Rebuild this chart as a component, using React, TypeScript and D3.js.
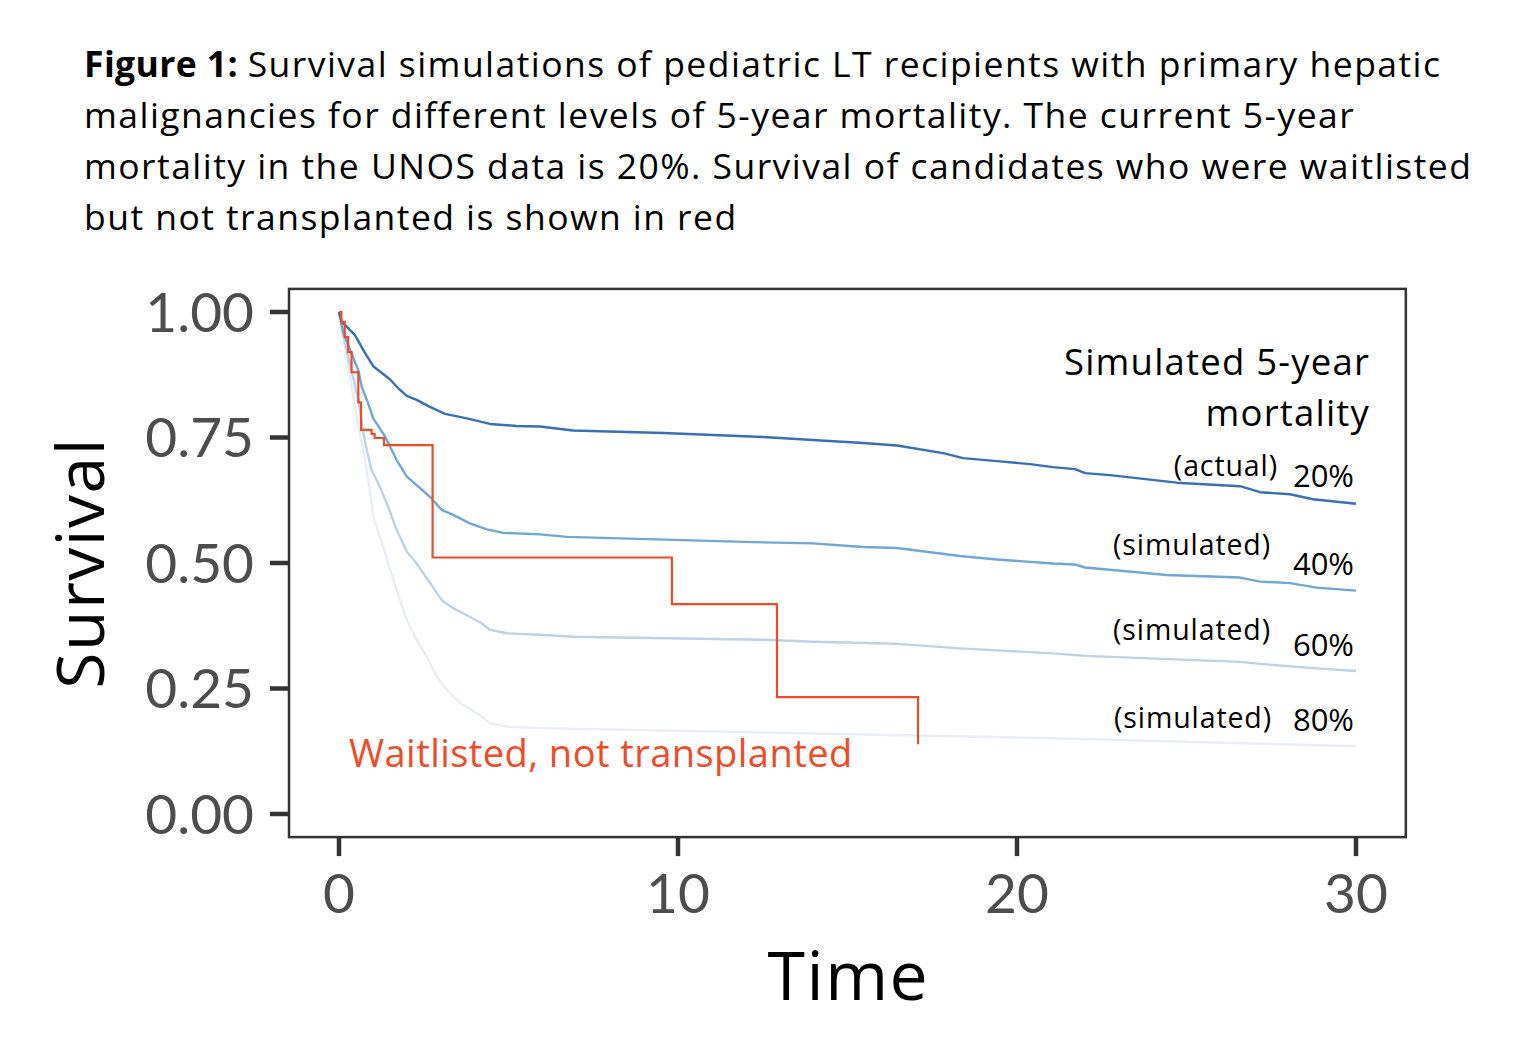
import { useEffect, useRef } from 'react';
import * as d3 from 'd3';

// Kaplan-Meier style curves: [time, survival]
const curve20: [number, number][] = [
  [0, 1.0], [0.08, 0.981], [0.47, 0.954], [0.77, 0.918], [1.01, 0.892], [1.5, 0.866],
  [1.75, 0.848], [2.0, 0.833], [2.29, 0.825], [2.68, 0.811], [3.13, 0.797], [3.77, 0.788],
  [4.45, 0.777], [5.24, 0.773], [5.93, 0.772], [6.9, 0.764], [9.56, 0.759], [12.51, 0.751],
  [13.98, 0.745], [15.46, 0.739], [16.46, 0.734], [17.82, 0.719], [18.41, 0.709],
  [19.41, 0.703], [20.38, 0.697], [21.06, 0.691], [21.71, 0.687], [22.01, 0.679],
  [22.74, 0.675], [24.71, 0.66], [26.58, 0.653], [27.17, 0.641], [28.05, 0.637],
  [28.73, 0.627], [30.0, 0.618],
];

const curve40: [number, number][] = [
  [0, 1.0], [0.13, 0.958], [0.57, 0.884], [0.67, 0.851], [0.86, 0.818], [1.01, 0.788],
  [1.36, 0.752], [1.7, 0.705], [2.0, 0.672], [2.29, 0.655], [2.68, 0.632], [3.03, 0.606],
  [3.37, 0.596], [3.86, 0.579], [4.36, 0.567], [4.85, 0.56], [5.93, 0.557], [6.72, 0.552],
  [12.51, 0.541], [13.98, 0.539], [15.46, 0.532], [16.46, 0.53], [18.32, 0.514],
  [19.41, 0.507], [21.06, 0.499], [21.71, 0.497], [22.01, 0.491], [24.42, 0.476],
  [26.58, 0.471], [27.17, 0.463], [28.05, 0.46], [28.84, 0.451], [30.0, 0.445],
];

const curve60: [number, number][] = [
  [0, 1.0], [0.13, 0.951], [0.57, 0.825], [0.72, 0.758], [0.82, 0.725], [0.96, 0.685],
  [1.16, 0.659], [1.45, 0.612], [1.7, 0.566], [2.0, 0.523], [2.29, 0.499], [2.63, 0.466],
  [3.03, 0.426], [3.37, 0.41], [3.77, 0.396], [4.21, 0.38], [4.45, 0.367], [4.95, 0.36],
  [5.93, 0.357], [6.9, 0.353], [12.51, 0.347], [13.98, 0.343], [16.46, 0.339],
  [18.32, 0.33], [21.06, 0.32], [22.01, 0.315], [26.58, 0.303], [27.17, 0.299],
  [28.84, 0.29], [30.0, 0.285],
];

const curve80: [number, number][] = [
  [0, 1.0], [0.18, 0.931], [0.52, 0.791], [0.77, 0.705], [0.91, 0.645], [1.01, 0.592],
  [1.21, 0.552], [1.45, 0.499], [1.7, 0.446], [2.0, 0.386], [2.24, 0.353], [2.59, 0.313],
  [2.88, 0.274], [3.18, 0.247], [3.57, 0.221], [3.91, 0.207], [4.21, 0.194], [4.45, 0.181],
  [4.95, 0.174], [5.93, 0.171], [13.6, 0.161], [21.06, 0.151], [30.0, 0.135],
];

// waitlisted but not transplanted (step function)
const waitlisted: [number, number][] = [
  [0, 1.0], [0.07, 0.98], [0.17, 0.95], [0.27, 0.92], [0.37, 0.88], [0.57, 0.82],
  [0.65, 0.765], [0.96, 0.757], [1.05, 0.749], [1.33, 0.735], [2.76, 0.511],
  [9.82, 0.418], [12.92, 0.233], [17.08, 0.139],
];

const seriesCurves = [curve80, curve60, curve40, curve20];
const seriesColors = ['#e8edf8', '#bcd3e7', '#72a6d6', '#3a6fb8'];
const seriesTags = ['(simulated)', '(simulated)', '(simulated)', '(actual)'];
const seriesPct = ['80%', '60%', '40%', '20%'];

const xTicks = [0, 10, 20, 30];
const yTicks = [0, 0.25, 0.5, 0.75, 1.0];

const titleLines = [
  'Survival simulations of pediatric LT recipients with primary hepatic',
  'malignancies for different levels of 5-year mortality. The current 5-year',
  'mortality in the UNOS data is 20%. Survival of candidates who were waitlisted',
  'but not transplanted is shown in red',
];

const W = 1526;
const H = 1046;
const FONT = '"Open Sans", sans-serif';
const TICK_FONT = 'Lato, sans-serif';

export default function App() {
  const svgRef = useRef<SVGSVGElement>(null);

  useEffect(() => {
    document.body.style.margin = '0';
    if (!svgRef.current) return;
    const svg = d3.select(svgRef.current);
    svg.selectAll('*').remove();
    svg.attr('width', W).attr('height', H).style('font-family', FONT).style('background', '#fff');

    const x = d3.scaleLinear().domain([0, 30]).range([339, 1356]);
    const y = d3.scaleLinear().domain([0, 1]).range([814, 312]);
    const panel = { x0: x(-1.475), x1: x(31.47), y0: y(1.046), y1: y(-0.046) };

    // title
    const title = svg
      .append('text')
      .attr('font-size', 35.5)
      .attr('letter-spacing', 1.45)
      .attr('fill', '#000');
    titleLines.forEach((line, i) => {
      const t = title.append('tspan').attr('x', 84).attr('y', 77 + i * 51);
      if (i === 0) {
        t.append('tspan').attr('font-weight', 700).attr('letter-spacing', 0.4).text('Figure 1: ');
        t.append('tspan').text(line);
      } else {
        t.text(line);
      }
    });

    const line = d3
      .line<[number, number]>()
      .x((d) => x(d[0]))
      .y((d) => y(d[1]));

    seriesCurves.forEach((c, i) => {
      svg
        .append('path')
        .datum(c)
        .attr('d', line)
        .attr('fill', 'none')
        .attr('stroke', seriesColors[i])
        .attr('stroke-width', 2.4)
        .attr('stroke-linejoin', 'round');
    });

    const stepLine = d3
      .line<[number, number]>()
      .x((d) => x(d[0]))
      .y((d) => y(d[1]))
      .curve(d3.curveStepAfter);

    svg
      .append('path')
      .datum(waitlisted)
      .attr('d', stepLine)
      .attr('fill', 'none')
      .attr('stroke', '#ee4b2b')
      .attr('stroke-width', 2.2);

    // panel border
    svg
      .append('rect')
      .attr('x', panel.x0)
      .attr('y', panel.y0)
      .attr('width', panel.x1 - panel.x0)
      .attr('height', panel.y1 - panel.y0)
      .attr('fill', 'none')
      .attr('stroke', '#333')
      .attr('stroke-width', 2.5);

    // y axis
    const yAxis = svg.append('g').style('font-family', TICK_FONT);
    yTicks.forEach((v) => {
      yAxis
        .append('line')
        .attr('x1', panel.x0 - 19)
        .attr('x2', panel.x0)
        .attr('y1', y(v))
        .attr('y2', y(v))
        .attr('stroke', '#333')
        .attr('stroke-width', 4.5);
      yAxis
        .append('text')
        .attr('x', panel.x0 - 35)
        .attr('y', y(v))
        .attr('dy', '0.36em')
        .attr('text-anchor', 'end')
        .attr('font-size', 55)
        .attr('fill', '#4d4d4d')
        .text(v.toFixed(2));
    });

    // x axis
    const xAxis = svg.append('g').style('font-family', TICK_FONT);
    xTicks.forEach((v) => {
      xAxis
        .append('line')
        .attr('x1', x(v))
        .attr('x2', x(v))
        .attr('y1', panel.y1)
        .attr('y2', panel.y1 + 19)
        .attr('stroke', '#333')
        .attr('stroke-width', 4.5);
      xAxis
        .append('text')
        .attr('x', x(v))
        .attr('y', 913)
        .attr('text-anchor', 'middle')
        .attr('font-size', 55)
        .attr('fill', '#4d4d4d')
        .text(String(v));
    });

    // axis titles
    svg
      .append('text')
      .attr('x', (panel.x0 + panel.x1) / 2 + 1)
      .attr('y', 1000)
      .attr('text-anchor', 'middle')
      .attr('font-size', 68)
      .attr('letter-spacing', 1.5)
      .attr('fill', '#000')
      .text('Time');

    svg
      .append('text')
      .attr('transform', `translate(104,${(panel.y0 + panel.y1) / 2}) rotate(-90)`)
      .attr('text-anchor', 'middle')
      .attr('font-size', 66)
      .attr('letter-spacing', 1.5)
      .attr('fill', '#000')
      .text('Survival');

    // legend heading
    const legendX = 1370;
    svg
      .append('text')
      .attr('x', legendX)
      .attr('y', 375)
      .attr('text-anchor', 'end')
      .attr('font-size', 36.5)
      .attr('letter-spacing', 1.2)
      .text('Simulated 5-year');
    svg
      .append('text')
      .attr('x', legendX)
      .attr('y', 426)
      .attr('text-anchor', 'end')
      .attr('font-size', 36.5)
      .attr('letter-spacing', 1.2)
      .text('mortality');

    // curve labels
    const tagY = [728, 640, 555, 476];
    const pctY = [731, 656, 575, 487];
    const tagX = [1272, 1271, 1271, 1278];
    seriesCurves.forEach((_, i) => {
      svg
        .append('text')
        .attr('x', tagX[i])
        .attr('y', tagY[i])
        .attr('text-anchor', 'end')
        .attr('font-size', 28.5)
        .attr('letter-spacing', 0.9)
        .text(seriesTags[i]);
      svg
        .append('text')
        .attr('x', x(30) - 2)
        .attr('y', pctY[i])
        .attr('text-anchor', 'end')
        .attr('font-size', 31)
        .text(seriesPct[i]);
    });

    svg
      .append('text')
      .attr('x', 349)
      .attr('y', 767)
      .attr('font-size', 38)
      .attr('letter-spacing', 0.45)
      .attr('fill', '#ee4b2b')
      .text('Waitlisted, not transplanted');
  }, []);

  return <svg ref={svgRef} style={{ display: 'block' }} />;
}
